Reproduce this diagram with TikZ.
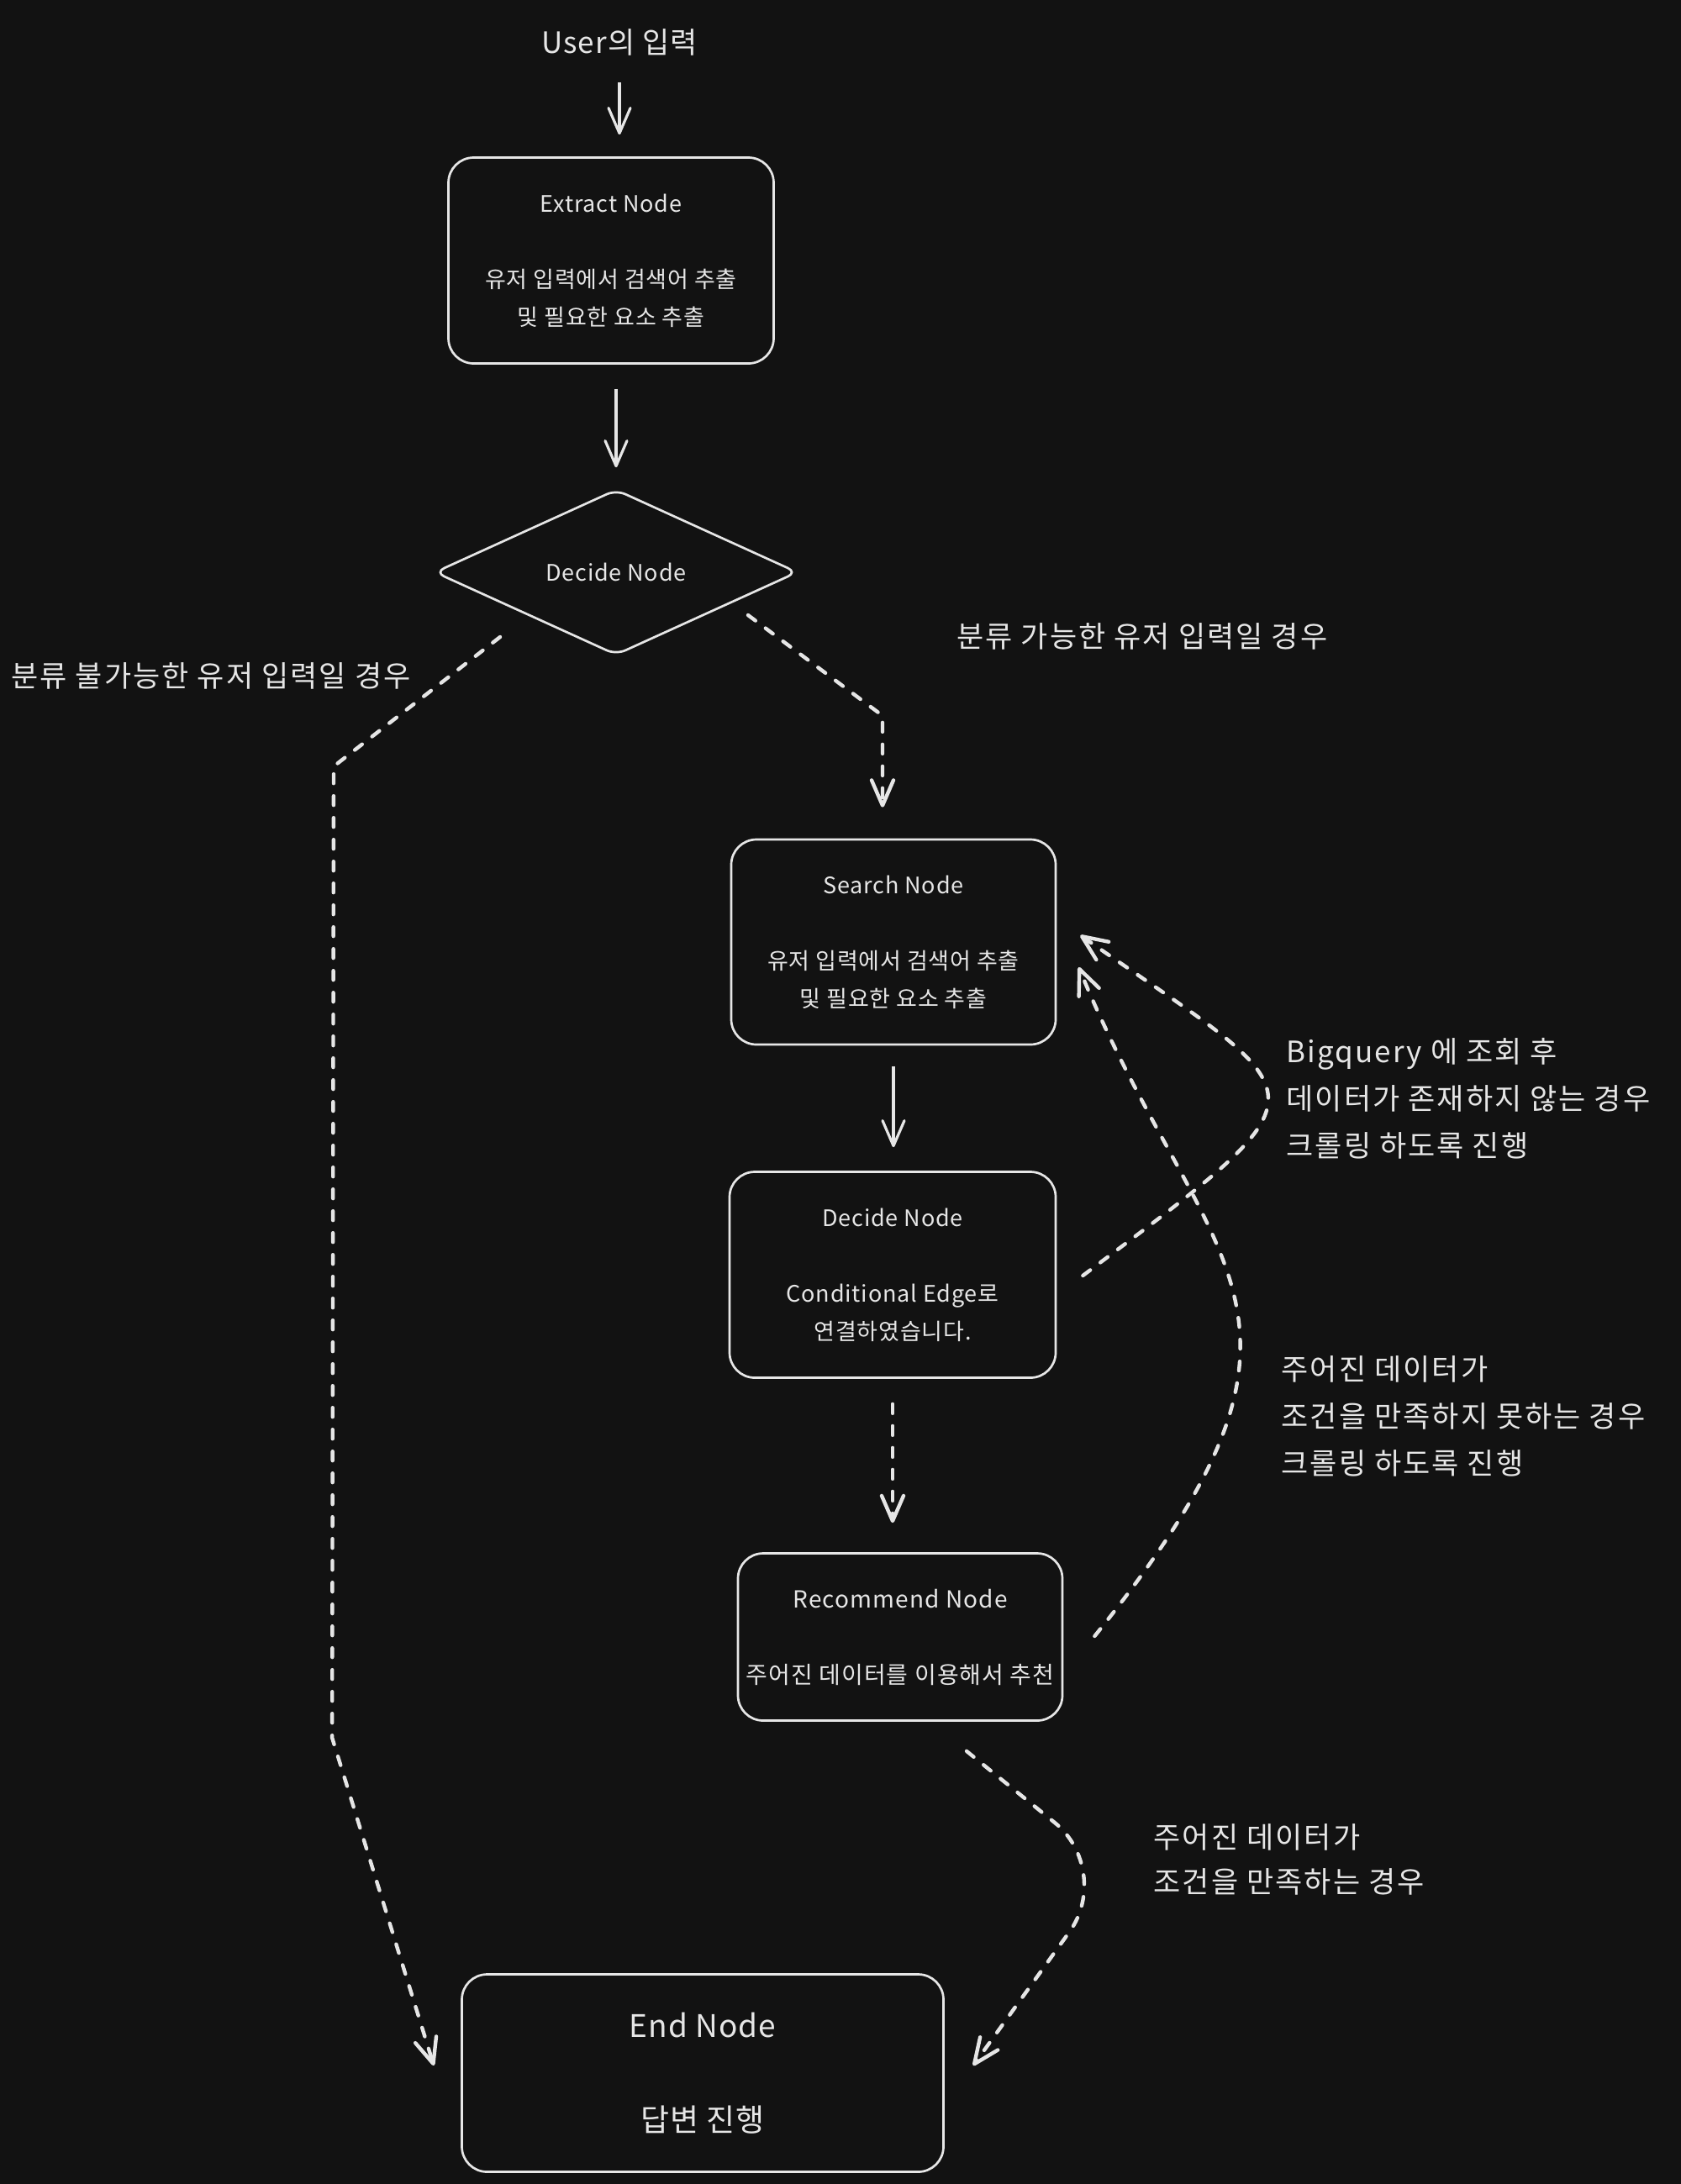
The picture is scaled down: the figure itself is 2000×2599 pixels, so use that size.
\documentclass[tikz,border=0pt]{standalone}
\usepackage{fontspec}
\setmainfont{Noto Sans CJK KR}
\usetikzlibrary{arrows.meta,shapes.geometric,calc}
\definecolor{bg}{HTML}{121212}
\definecolor{fg}{HTML}{E6E6E6}
\begin{document}
\begin{tikzpicture}[x=0.5pt,y=-0.5pt,
  box/.style={draw=fg, line width=1.35pt, rounded corners=15pt, text=fg, align=center, inner sep=0pt, font=\fontsize{13.5}{22.5}\selectfont\addfontfeature{LetterSpace=3}},
  dec/.style={diamond, draw=fg, line width=1.35pt, rounded corners=6pt, text=fg, inner sep=0pt, font=\fontsize{13.5}{22.5}\selectfont\addfontfeature{LetterSpace=3}},
  lbl/.style={text=fg, align=left, anchor=west, inner sep=0pt, font=\fontsize{17.5}{28}\selectfont\addfontfeature{LetterSpace=6}},
  tip/.style={-{Straight Barb[length=15pt,width=13pt,round]}},
  solidarr/.style={tip, draw=fg, line width=1.6pt},
  dasharr/.style={tip, draw=fg, line width=2.2pt, line cap=round, dash pattern=on 5.5pt off 7.5pt},
]
\fill[bg] (0,0) rectangle (2000,2599);
\useasboundingbox (0,0) rectangle (2000,2599);

% nodes
\node[text=fg, font=\fontsize{17.5}{20}\selectfont\addfontfeature{LetterSpace=3}, inner sep=2pt] (user) at (737,50) {User의 입력};
\node[box, minimum width=193.5pt, minimum height=122.5pt] (extract) at (727,310) {Extract Node\\[22.5pt]유저 입력에서 검색어 추출\\및 필요한 요소 추출};
\node[dec, minimum width=216pt, minimum height=98.5pt] (dec1) at (733,681) {Decide Node};
\node[box, minimum width=193pt, minimum height=122pt] (search) at (1063,1121) {Search Node\\[22.5pt]유저 입력에서 검색어 추출\\및 필요한 요소 추출};
\node[box, minimum width=194pt, minimum height=122.5pt] (dec2) at (1062,1517) {Decide Node\\[22.5pt]Conditional Edge로\\연결하였습니다.};
\node[box, minimum width=193pt, minimum height=99.5pt, font=\fontsize{14}{22.5}\selectfont\addfontfeature{LetterSpace=4}] (rec) at (1071,1948) {Recommend Node\\[22.5pt]주어진 데이터를 이용해서 추천};
\node[box, minimum width=286.5pt, minimum height=117.5pt, font=\fontsize{18.5}{28}\selectfont\addfontfeature{LetterSpace=3}] (end) at (836,2467) {End Node\\[28pt]답변 진행};

% labels
\node[lbl] (l1) at (1138,757) {분류 가능한 유저 입력일 경우};
\node[lbl] (l2) at (13,804) {분류 불가능한 유저 입력일 경우};
\node[lbl] (l3) at (1530,1307) {Bigquery 에 조회 후\\데이터가 존재하지 않는 경우\\크롤링 하도록 진행};
\node[lbl] (l4) at (1524,1685) {주어진 데이터가\\조건을 만족하지 못하는 경우\\크롤링 하도록 진행};
\node[lbl, font=\fontsize{17.5}{26.5}\selectfont\addfontfeature{LetterSpace=6}] (l5) at (1372,2213) {주어진 데이터가\\조건을 만족하는 경우};

% connectors
\draw[solidarr, shorten <=14pt, shorten >=13pt] (user.south) -- (user.south |- extract.north);
\draw[solidarr, shorten <=14.5pt, shorten >=12.5pt] (dec1.north |- extract.south) -- (dec1.north);
\draw[dasharr] ([shift={(157,51)}]dec1.center) -- ([shift={(-13,-146)}]search.north) -- ([shift={(-13,-37)}]search.north);
\draw[dasharr] ([shift={(-138,77)}]dec1.center) -- ([shift={(-336,231)}]dec1.center) -- ([shift={(-153,-399)}]end.west) -- ([shift={(-32,-9)}]end.west);
\draw[solidarr, shorten <=12.5pt, shorten >=14pt] (search.south) -- (search.south |- dec2.north);
\draw[dasharr, shorten <=15pt, shorten >=17.5pt] (dec2.south) -- (dec2.south |- rec.north);
\draw[dasharr, rounded corners=45pt] ([shift={(79,35)}]rec.south) -- ([shift={(254,177)}]rec.south) -- ([shift={(34,-9)}]end.east);
\draw[dasharr] ([shift={(31,1)}]dec2.east) .. controls +(304,-228) and +(287,200) .. ([shift={(28,-8)}]search.east);
\draw[dasharr] ([shift={(37,-1)}]rec.east) .. controls +(315,-390) and +(152,368) .. ([shift={(26,30)}]search.east);
\end{tikzpicture}
\end{document}
